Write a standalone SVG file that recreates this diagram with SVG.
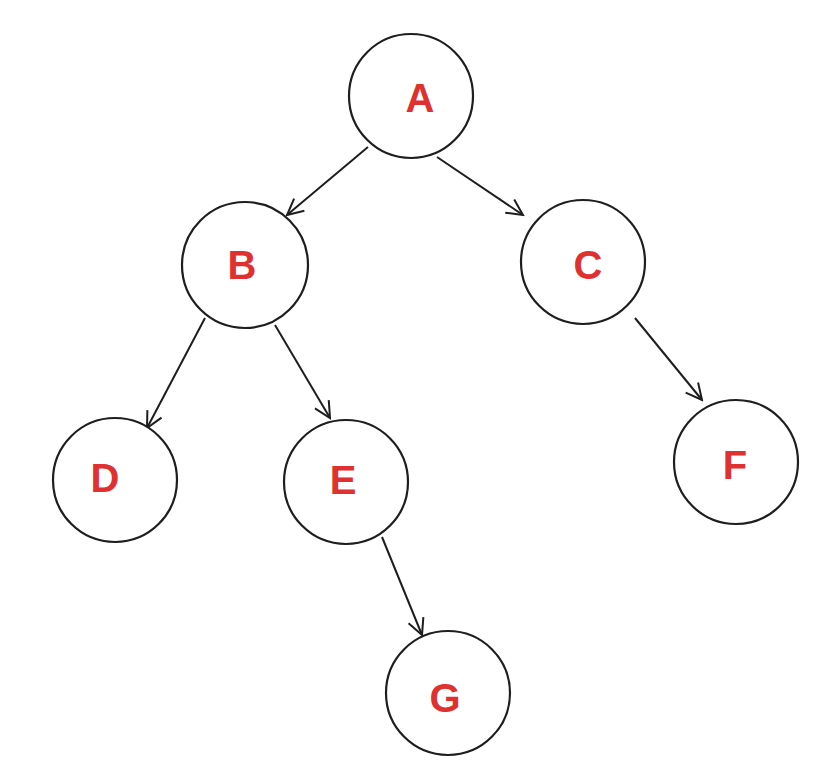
<svg xmlns="http://www.w3.org/2000/svg" width="826" height="763" viewBox="0 0 826 763">
<style>
.n{fill:#fff;stroke:#1e1e1e;stroke-width:2.2}
.t{fill:#e03131;font-family:"Liberation Sans",Arial,sans-serif;font-size:40px;font-weight:bold;text-anchor:middle;dominant-baseline:central}
.e{stroke:#1e1e1e;stroke-width:2;fill:none;marker-end:url(#ah)}
</style>
<defs><marker id="ah" viewBox="0 0 20 20" refX="18" refY="10" markerWidth="20" markerHeight="20" markerUnits="userSpaceOnUse" orient="auto"><path d="M2,2 L18,10 L2,18" fill="none" stroke="#1e1e1e" stroke-width="2"/></marker></defs>
<rect width="826" height="763" fill="#fff"/>
<g id="connectors">
<line class="e" x1="368" y1="147" x2="287" y2="215"/>
<line class="e" x1="437" y1="157" x2="523" y2="215"/>
<line class="e" x1="205" y1="318" x2="147" y2="428"/>
<line class="e" x1="275" y1="325" x2="330" y2="418"/>
<line class="e" x1="635" y1="318" x2="702" y2="400"/>
<line class="e" x1="382" y1="537" x2="422" y2="635"/>
</g>
<g id="A"><circle class="n" cx="411" cy="96" r="62"/><text class="t" x="420" y="98">A</text></g>
<g id="B"><circle class="n" cx="245" cy="265" r="63"/><text class="t" x="242" y="265">B</text></g>
<g id="C"><circle class="n" cx="583" cy="262" r="62"/><text class="t" x="588" y="265">C</text></g>
<g id="D"><circle class="n" cx="115" cy="480" r="62"/><text class="t" x="105" y="478">D</text></g>
<g id="E"><circle class="n" cx="346" cy="482" r="62"/><text class="t" x="343" y="480">E</text></g>
<g id="F"><circle class="n" cx="736" cy="462" r="62"/><text class="t" x="735" y="465">F</text></g>
<g id="G"><circle class="n" cx="448" cy="693" r="62"/><text class="t" x="445" y="698">G</text></g>
</svg>
